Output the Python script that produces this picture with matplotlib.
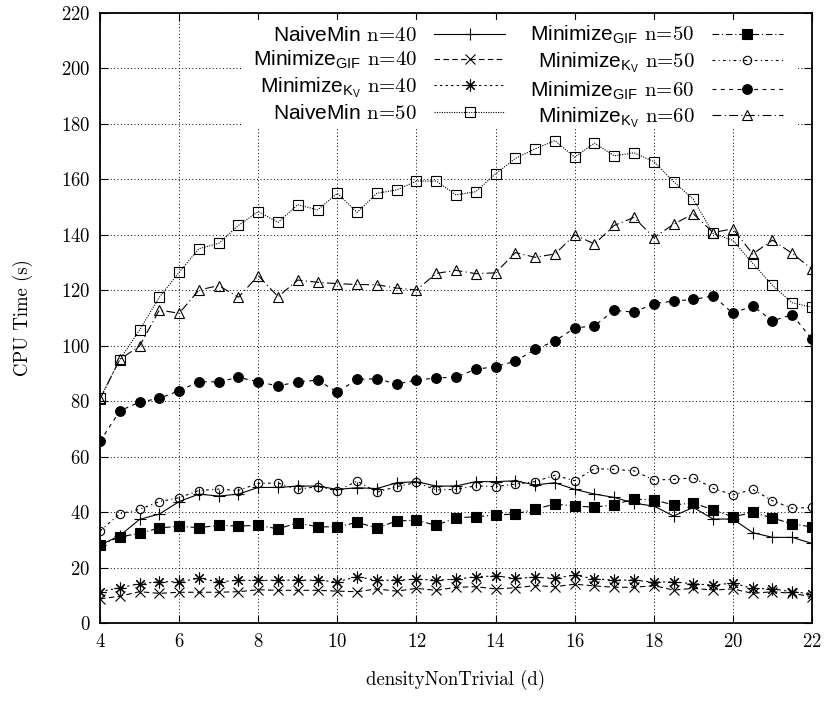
import matplotlib
matplotlib.use('Agg')  # noqa

import matplotlib.pyplot as plt  # noqa
from matplotlib.patches import Rectangle  # noqa

plt.rcParams['font.family'] = ['cmr10', 'DejaVu Serif']
plt.rcParams['mathtext.fontset'] = 'custom'
plt.rcParams['mathtext.sf'] = 'Liberation Sans'
plt.rcParams['mathtext.rm'] = 'cmr10'
plt.rcParams['axes.formatter.use_mathtext'] = True

# x values (density)
density = [4, 4.5, 5, 5.5, 6, 6.5, 7, 7.5, 8, 8.5, 9, 9.5, 10, 10.5, 11, 11.5,
           12, 12.5, 13, 13.5, 14, 14.5, 15, 15.5, 16, 16.5, 17, 17.5, 18,
           18.5, 19, 19.5, 20, 20.5, 21, 21.5, 22]

naive40 = [28.1, 31.5, 37.4, 39.3, 43.8, 46.5, 45.8, 46.5, 48.9, 48.9, 49.4,
           49.4, 48.2, 48.8, 48.5, 50.6, 51.0, 49.4, 49.4, 51.0, 51.0, 51.3,
           49.8, 50.6, 48.2, 46.5, 45.3, 43.2, 42.2, 38.6, 41.7, 37.5, 37.5,
           32.6, 30.9, 30.9, 28.7]
gif40 = [8.7, 9.7, 11.3, 10.7, 11.1, 11.1, 11.1, 11.3, 12.0, 11.8, 11.8, 11.8,
         11.5, 11.3, 12.3, 11.5, 12.5, 11.8, 12.9, 13.1, 12.3, 12.7, 13.5,
         13.1, 14.0, 13.4, 12.9, 12.9, 13.5, 11.9, 12.5, 11.9, 12.3, 10.7,
         11.3, 10.7, 9.5]
kv40 = [11.3, 12.7, 14.2, 14.9, 14.9, 16.1, 14.9, 15.4, 15.4, 15.4, 15.5, 15.4,
        14.9, 16.7, 15.4, 15.5, 15.8, 15.5, 15.8, 16.7, 17.0, 16.1, 16.5,
        16.1, 17.3, 15.9, 15.5, 15.5, 14.7, 14.9, 14.1, 13.7, 14.4, 12.5,
        12.3, 11.3, 10.5]
naive50 = [81.0, 95.0, 105.7, 117.5, 126.5, 135.0, 136.9, 143.4, 148.4, 144.5,
           150.9, 149.0, 155.0, 148.1, 155.0, 156.2, 159.4, 159.4, 154.4,
           155.6, 162.0, 167.6, 171.0, 174.0, 168.0, 173.1, 168.5, 169.6,
           166.4, 159.2, 152.8, 140.5, 138.0, 129.7, 121.8, 115.5, 113.9]
gif50 = [28.1, 31.1, 32.3, 34.3, 34.9, 34.4, 35.2, 35.0, 35.2, 34.0, 36.1,
         34.7, 34.7, 36.3, 34.3, 36.8, 37.1, 35.2, 38.0, 38.3, 39.0, 39.3,
         41.1, 42.9, 42.2, 41.8, 42.7, 44.7, 44.4, 42.6, 43.3, 40.8, 38.3,
         39.9, 37.9, 35.7, 34.7]
kv50 = [33.2, 39.4, 41.0, 43.8, 45.2, 47.8, 48.3, 47.8, 50.4, 50.5, 48.2, 49.2,
        47.7, 51.2, 47.2, 49.2, 50.7, 48.0, 48.2, 49.5, 49.2, 50.1, 51.0,
        53.3, 51.3, 55.7, 55.4, 54.9, 51.6, 51.8, 52.4, 48.6, 46.2, 48.2,
        44.1, 41.4, 41.7]
gif60 = [65.5, 76.5, 79.7, 81.0, 83.8, 87.0, 87.0, 88.6, 87.0, 85.5, 87.0,
         87.6, 83.3, 87.9, 88.1, 86.2, 87.6, 88.4, 88.7, 91.5, 92.5, 94.4,
         98.7, 101.7, 106.4, 107.2, 112.8, 112.1, 115.2, 116.1, 116.7, 118.0,
         111.7, 114.4, 109.0, 111.2, 102.3]
kv60 = [80.7, 95.1, 99.9, 112.9, 111.7, 120.1, 121.7, 117.5, 125.3, 117.7,
        123.7, 122.9, 122.4, 122.1, 122.0, 120.8, 120.1, 126.1, 127.2, 126.0,
        126.3, 133.6, 131.9, 133.1, 140.0, 136.7, 143.4, 146.3, 139.0, 143.8,
        147.6, 140.8, 142.2, 133.1, 138.1, 133.3, 127.6]

NAIVE = r'$\mathsf{NaiveMin}$'
GIF = r'$\mathsf{Minimize_{GIF}}$'
KV = r'$\mathsf{Minimize_{K_V}}$'

# (values, label, marker, size, filled, dashes)
series = [
    (naive40, NAIVE + ' n=40', '+', 8.5, False, None),
    (gif40, GIF + ' n=40', 'x', 7, False, (5, 3)),
    (kv40, KV + ' n=40', (8, 2, 0), 8.5, False, (2, 3)),
    (naive50, NAIVE + ' n=50', 's', 6.5, False, (1, 1.2)),
    (gif50, GIF + ' n=50', 's', 7, True, (6, 2.5, 1, 2.5)),
    (kv50, KV + ' n=50', 'o', 6, False, (2.5, 3, 1, 3)),
    (gif60, GIF + ' n=60', 'o', 7, True, (3.5, 4)),
    (kv60, KV + ' n=60', '^', 6.5, False, (8, 3, 1, 3)),
]


def main():
    fig = plt.figure(figsize=(8.32, 7.04), dpi=100)
    ax = fig.add_axes([0.1202, 0.115, 0.8558, 0.8665])

    for vals, label, marker, size, filled, dashes in series:
        line, = ax.plot(density, vals, color='black', lw=0.8, marker=marker,
                        markersize=size, markeredgewidth=0.8,
                        markerfacecolor='black' if filled else 'none',
                        label=label)
        if dashes is not None:
            line.set_dashes(dashes)

    ax.set_xlim(4, 22)
    ax.set_ylim(0, 220)
    ax.set_xticks(range(4, 23, 2))
    ax.set_yticks(range(0, 221, 20))
    ax.tick_params(direction='in', top=True, right=True, length=6,
                   width=0.8, labelsize=13.5, pad=7)
    ax.grid(True, color='black', linestyle=(0, (1, 2.5)), lw=0.7)
    for sp in ax.spines.values():
        sp.set_linewidth(1.3)

    ax.set_xlabel('densityNonTrivial (d)', fontsize=13.5, labelpad=14)
    ax.set_ylabel('CPU Time (s)', fontsize=13.5, labelpad=20)

    # opaque key area (below the top tick marks, like gnuplot's key box)
    ax.add_patch(Rectangle((0.2, 0.8115), 0.779, 0.988 - 0.8115,
                           transform=ax.transAxes, facecolor='white',
                           edgecolor='none', zorder=2.1))

    ax.legend(loc='upper right', bbox_to_anchor=(0.959, 0.982), ncol=2,
              markerfirst=False, fontsize=15, handlelength=3.4,
              handletextpad=0.84, columnspacing=1.2, labelspacing=0.2,
              borderpad=0, borderaxespad=0, frameon=False)

    fig.savefig('out.png', dpi=100)


if __name__ == '__main__':
    main()
